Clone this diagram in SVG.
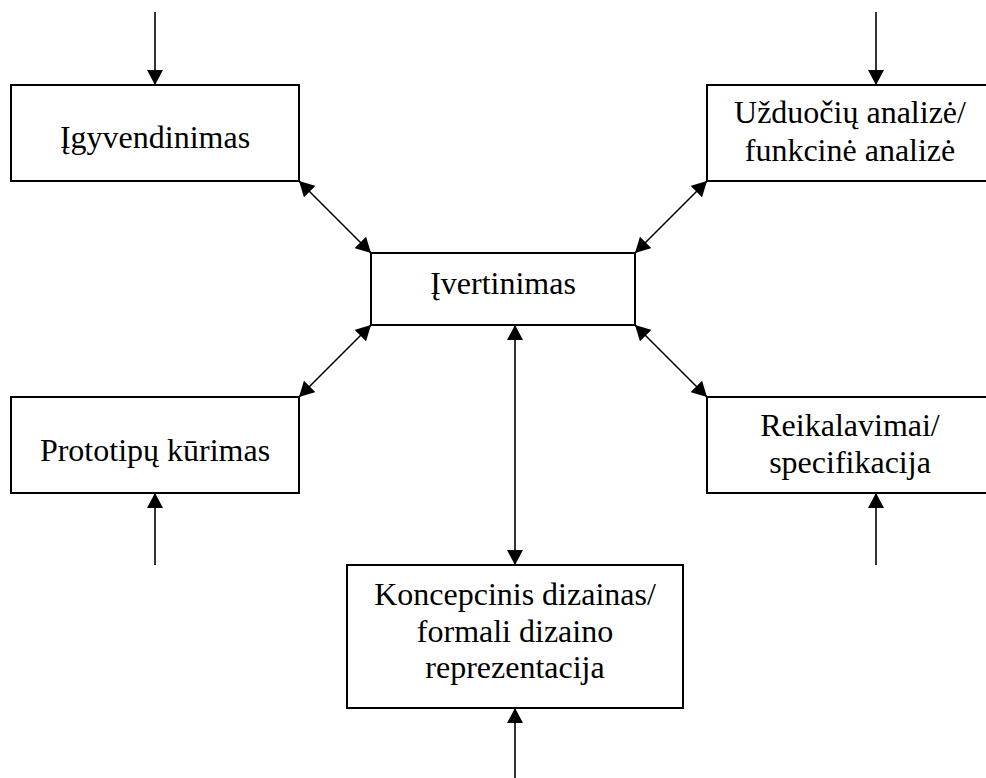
<svg xmlns="http://www.w3.org/2000/svg" width="986" height="778" viewBox="0 0 986 778">
  <style>
    .box { fill: #ffffff; stroke: #000000; stroke-width: 2; }
    .lbl { font-family: "Liberation Serif", "Times New Roman", serif; font-size: 32px; fill: #000000; text-anchor: middle; }
    .conn { stroke: #000000; stroke-width: 1.6; fill: none; }
    .one { marker-end: url(#head); }
    .both { marker-start: url(#head); marker-end: url(#head); }
  </style>
  <defs>
    <marker id="head" markerUnits="userSpaceOnUse" markerWidth="16" markerHeight="16" refX="15" refY="8" orient="auto-start-reverse" viewBox="0 0 16 16">
      <path d="M0,0 L15,8 L0,16 z" fill="#000000"/>
    </marker>
  </defs>

  <rect width="986" height="778" fill="#ffffff"/>

  <g id="nodes">
    <g id="igyvendinimas">
      <rect class="box" x="11" y="85" width="288" height="96"/>
      <text class="lbl" x="155" y="148">Įgyvendinimas</text>
    </g>
    <g id="uzduociu-analize">
      <rect class="box" x="707" y="85" width="286" height="96"/>
      <text class="lbl" x="850" y="123">Užduočių analizė/</text>
      <text class="lbl" x="850" y="161">funkcinė analizė</text>
    </g>
    <g id="ivertinimas">
      <rect class="box" x="371" y="253" width="264" height="72"/>
      <text class="lbl" x="503" y="294">Įvertinimas</text>
    </g>
    <g id="prototipu-kurimas">
      <rect class="box" x="11" y="397" width="288" height="96"/>
      <text class="lbl" x="155" y="461">Prototipų kūrimas</text>
    </g>
    <g id="reikalavimai">
      <rect class="box" x="707" y="397" width="286" height="96"/>
      <text class="lbl" x="850" y="436">Reikalavimai/</text>
      <text class="lbl" x="850" y="473">specifikacija</text>
    </g>
    <g id="koncepcinis-dizainas">
      <rect class="box" x="347" y="565" width="336" height="143"/>
      <text class="lbl" x="515" y="605">Koncepcinis dizainas/</text>
      <text class="lbl" x="515" y="642">formali dizaino</text>
      <text class="lbl" x="515" y="678">reprezentacija</text>
    </g>
  </g>

  <g id="connectors">
    <!-- incoming inputs -->
    <line class="conn one" x1="155" y1="12" x2="155" y2="85"/>
    <line class="conn one" x1="876" y1="12" x2="876" y2="85"/>
    <line class="conn one" x1="155" y1="565" x2="155" y2="493"/>
    <line class="conn one" x1="876" y1="565" x2="876" y2="493"/>
    <line class="conn one" x1="515" y1="778" x2="515" y2="708"/>
    <!-- two-way links with the evaluation hub -->
    <line class="conn both" x1="299" y1="181" x2="371" y2="253"/>
    <line class="conn both" x1="707" y1="181" x2="635" y2="253"/>
    <line class="conn both" x1="371" y1="325" x2="299" y2="397"/>
    <line class="conn both" x1="635" y1="325" x2="707" y2="397"/>
    <line class="conn both" x1="515" y1="325" x2="515" y2="565"/>
  </g>
</svg>
